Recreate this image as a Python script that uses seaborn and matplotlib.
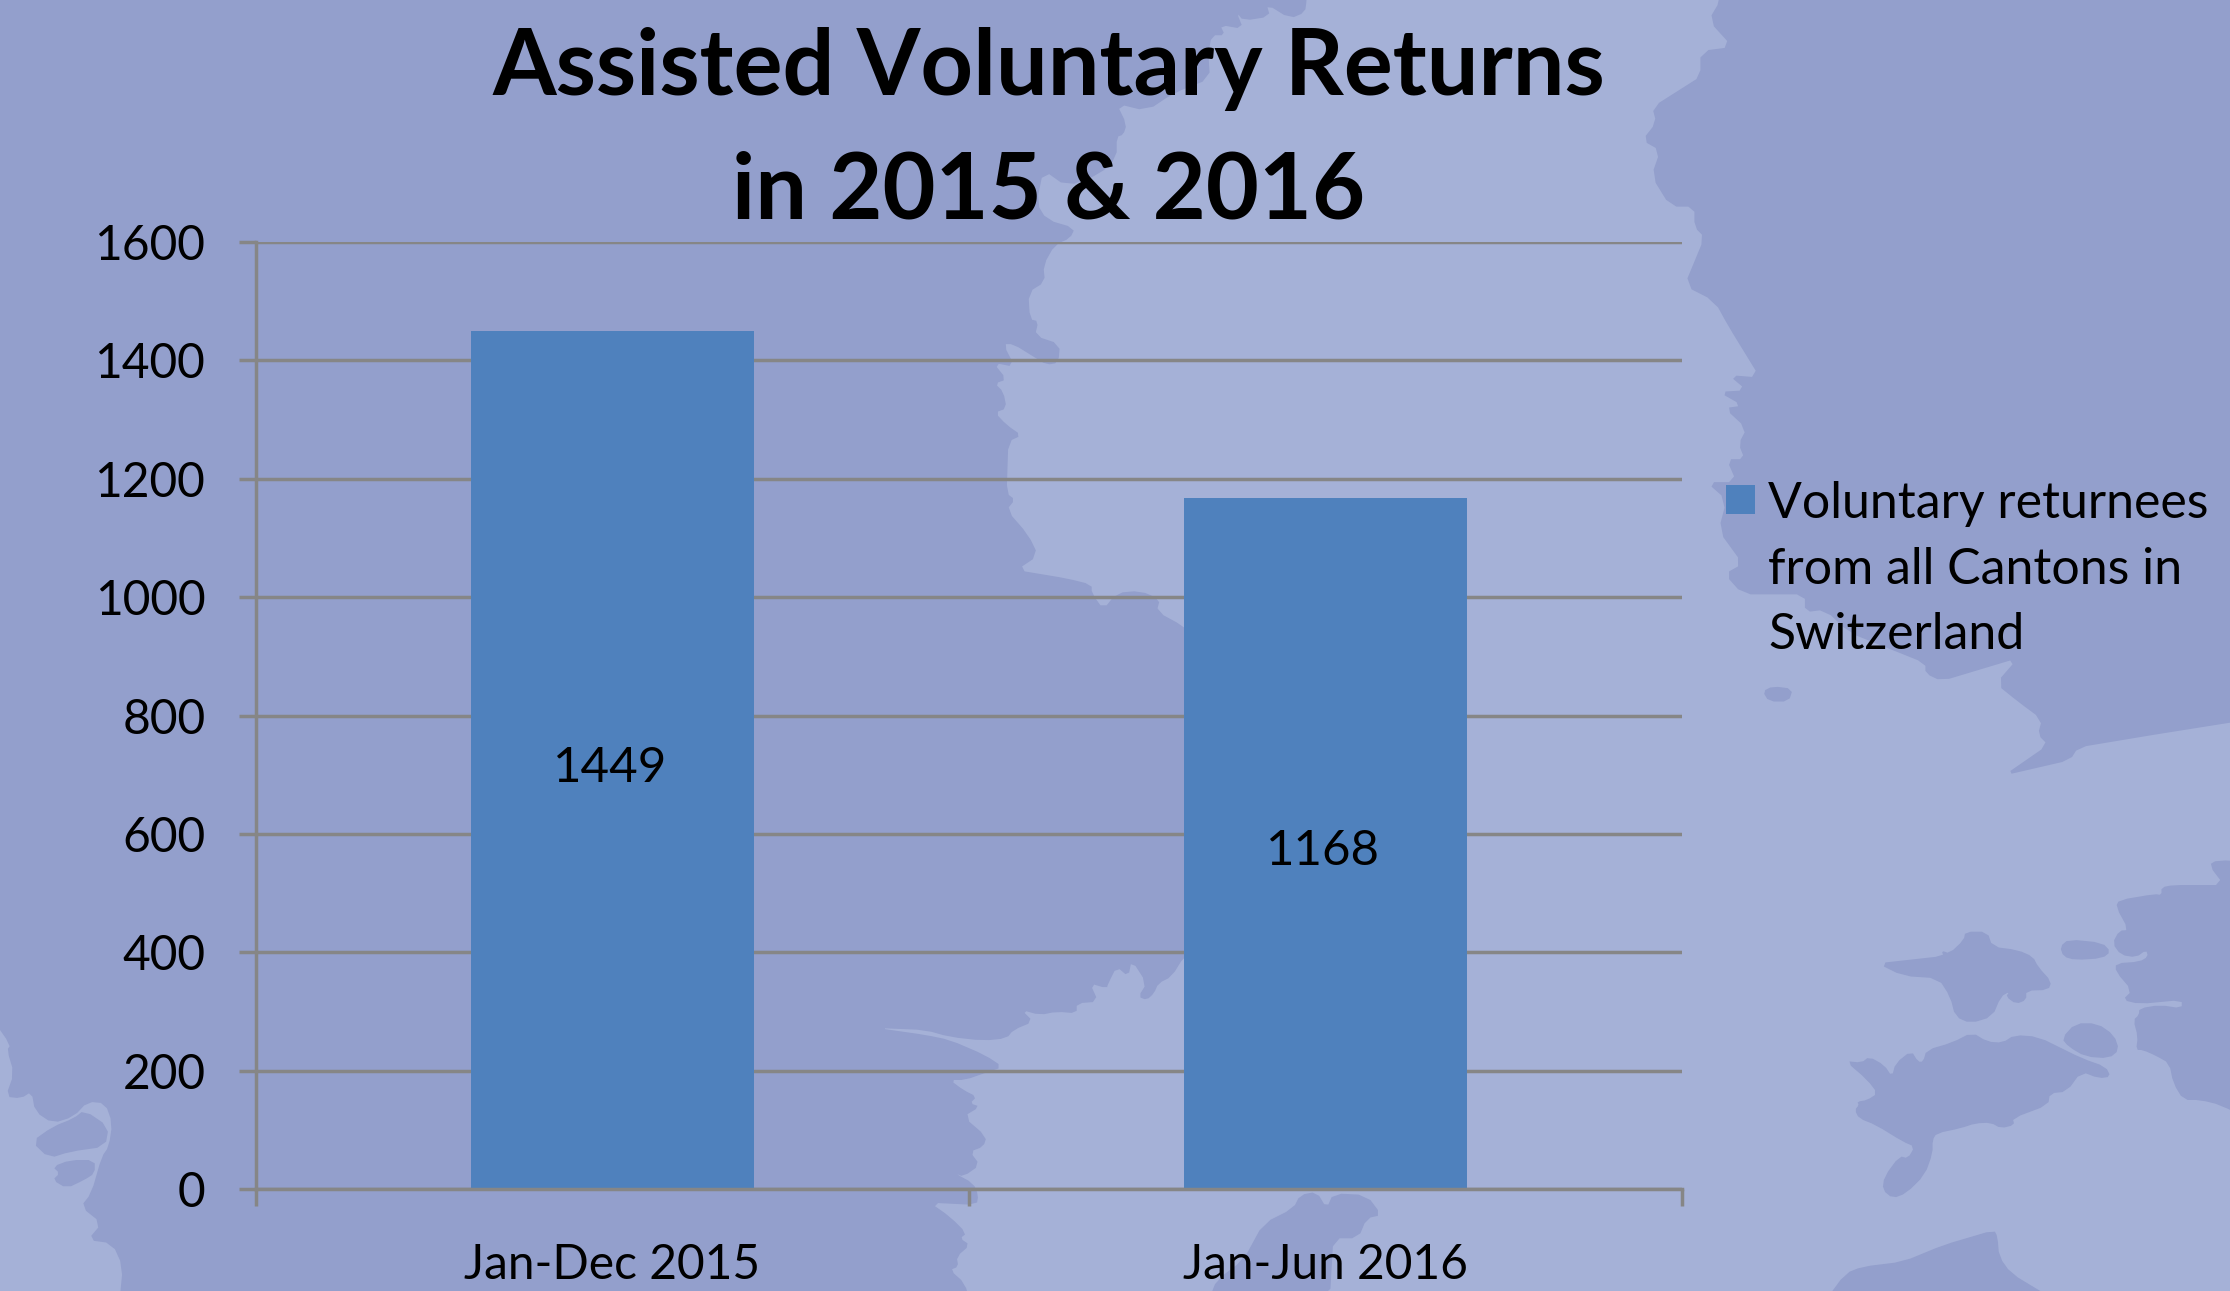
import numpy as np
import pandas as pd
import matplotlib
matplotlib.use("Agg")
import matplotlib.pyplot as plt
from matplotlib.patches import Polygon, Rectangle, Patch
from matplotlib.legend_handler import HandlerPatch
import seaborn as sns

# ---- data ----
periods = ["Jan-Dec 2015", "Jan-Jun 2016"]
returnees = [1449, 1168]
series_name = "Voluntary returnees\nfrom all Cantons in\nSwitzerland"
y_ticks = [0, 200, 400, 600, 800, 1000, 1200, 1400, 1600]
title_text = "Assisted Voluntary Returns\nin 2015 & 2016"

# ---- style ----
W, H = 2230, 1291
LIGHT, DARK = "#A5B1D7", "#939FCC"
BAR = "#4F81BD"
GRID = "#868686"
FS = 34.5
LW = 2.5

sns.set_theme(style="white")
plt.rcParams["font.family"] = ["Lato", "DejaVu Sans"]

fig = plt.figure(figsize=(W / 100, H / 100), dpi=100, facecolor=LIGHT)


def zoomed(points, x0, y0, sx, sy):
    return [(x0 + x / sx, y0 + y / sy) for x, y in points]


def chaikin(points):
    p = np.asarray(points, float)
    q = np.roll(p, -1, axis=0)
    d = np.minimum(0.25, 8 / np.maximum(np.hypot(*(q - p).T), 1e-6))[:, None]
    return np.column_stack([p + d * (q - p), q - d * (q - p)]).reshape(-1, 2)


def land(points):
    p = chaikin(points) / [W, H]
    p[:, 1] = 1 - p[:, 1]
    fig.add_artist(Polygon(p, closed=True, transform=fig.transFigure, fc=DARK, ec="none", zorder=-5))


# decorative map backdrop in pixels
Z4 = dict(x0=900, y0=0, sx=3, sy=2.412)
Z5 = dict(x0=950, y0=850, sx=3, sy=3)
Z3 = dict(x0=0, y0=950, sx=1.425, sy=3)
Z1 = dict(x0=1600, y0=0, sx=2.489, sy=1.96)
Z2 = dict(x0=1700, y0=800, sx=2.958, sy=3)

main = [(-60, -60), (1310, -60)]
main += zoomed([(1220, 0), (1215, 30), (1170, 45), (1100, 10), (1110, 40), (1030, 50), (1010, 30), (1030, 70),
                (960, 60), (975, 85), (935, 85), (925, 130), (930, 190), (820, 225), (740, 268), (650, 250),
                (680, 300), (670, 325), (650, 330), (650, 380), (600, 420), (500, 450), (430, 410), (410, 490),
                (440, 530), (525, 550), (510, 575), (465, 590), (430, 640), (435, 680), (385, 705), (390, 770),
                (415, 775), (405, 810), (480, 830), (475, 875), (440, 880), (400, 860), (340, 830), (310, 830),
                (345, 885), (280, 875), (320, 915), (285, 925), (310, 945), (320, 985), (285, 995), (320, 1025),
                (365, 1050), (325, 1065), (320, 1190), (345, 1205), (320, 1230), (385, 1290), (415, 1340),
                (350, 1375), (500, 1395), (575, 1410), (575, 1430), (610, 1470), (650, 1430), (720, 1425),
                (780, 1445), (770, 1475), (850, 1510), (870, 1530)], **Z4)
main += [(1200, 640), (1200, 945)]
main += zoomed([(702, 320), (665, 380), (625, 400), (612, 430), (590, 450), (565, 440), (590, 400), (545, 330),
                (535, 380), (500, 350), (475, 400), (470, 415), (420, 400), (445, 455), (380, 460), (380, 490),
                (320, 485), (270, 495), (215, 480), (250, 515), (190, 540), (170, 565), (100, 572)], **Z5)
main += [(950, 1037), (925, 1030), (877, 1028), (926, 1035), (950, 1040), (985, 1055), (1003, 1067), (985, 1073),
         (965, 1080), (950, 1080)]
main += zoomed([(40, 720), (80, 740), (60, 760), (90, 770), (40, 800), (110, 860), (100, 890), (60, 905), (90, 945),
                (40, 980), (15, 970), (70, 1000), (85, 1035), (80, 1065), (-60, 1058), (0, 1100), (50, 1150),
                (30, 1165), (60, 1185), (20, 1220), (25, 1250), (0, 1260), (45, 1300), (60, 1360)], **Z5)
main += zoomed([(170, 1060), (175, 950), (160, 880), (125, 870), (145, 820), (115, 770), (130, 730), (145, 620),
                (155, 590), (160, 520), (150, 460), (125, 455), (105, 500), (75, 520), (50, 485), (45, 425),
                (30, 445), (8, 440), (20, 370), (10, 300), (15, 285), (-10, 210), (-80, 210)], **Z3)
land(main)

land(zoomed([(120, 480), (155, 530), (150, 590), (100, 605), (70, 625), (45, 575), (75, 530), (105, 505)], **Z3))
land(zoomed([(75, 650), (100, 630), (135, 630), (135, 670), (120, 690), (95, 715), (75, 690), (85, 670)], **Z3))
land(zoomed([(780, 1340), (800, 1290), (880, 1230), (940, 1120), (1030, 1075), (1050, 1035), (1100, 1025),
             (1130, 1075), (1150, 1030), (1250, 1035), (1295, 1095), (1250, 1105), (1225, 1165), (1150, 1165),
             (1140, 1340)], **Z5))
land(zoomed([(300, 0), (270, 40), (330, 92), (250, 100), (250, 150), (210, 170), (130, 210), (140, 240), (105, 275),
             (150, 295), (128, 345), (175, 405), (235, 405), (235, 445), (260, 465), (210, 560), (285, 590),
             (320, 640), (398, 740), (320, 735), (365, 765), (295, 768), (355, 795), (310, 800), (365, 840),
             (345, 870), (360, 900), (315, 900), (340, 945), (265, 945), (315, 980), (295, 1040), (355, 1105),
             (310, 1125), (355, 1165), (510, 1165), (510, 1200), (560, 1195), (620, 1240), (810, 1300), (810, 1320),
             (850, 1335), (1040, 1290), (985, 1340), (1040, 1375), (1100, 1410), (1090, 1440), (1115, 1460),
             (1005, 1520), (1170, 1490), (1190, 1465), (1380, 1440), (1700, 1400), (1700, -100), (300, -100)], **Z1))
land(zoomed([(405, 1355), (430, 1345), (480, 1350), (470, 1375), (420, 1375)], **Z1))
land(zoomed([(525, 490), (720, 468), (715, 452), (738, 460), (780, 420), (785, 395), (850, 395), (865, 440), (940, 450),
             (985, 470), (1000, 500), (1040, 545), (1030, 570), (965, 572), (965, 600), (935, 612), (905, 590),
             (915, 575), (890, 590), (865, 650), (800, 670), (755, 650), (740, 590), (705, 535), (600, 528)], **Z2))
land(zoomed([(1065, 440), (1090, 418), (1190, 428), (1215, 455), (1190, 475), (1110, 480), (1075, 470)], **Z2))
land(zoomed([(430, 783), (478, 788), (500, 770), (545, 795), (568, 830), (578, 790), (625, 752), (645, 785), (660, 785),
             (670, 750), (745, 728), (805, 697), (850, 725), (895, 728), (930, 705), (1000, 710), (1130, 775),
             (1200, 800), (1215, 830), (1180, 835), (1128, 815), (1085, 875), (1035, 880), (1030, 915), (925, 955),
             (930, 975), (890, 985), (860, 968), (815, 970), (770, 985), (700, 1000), (688, 1020), (688, 1060),
             (665, 1125), (610, 1180), (570, 1195), (540, 1170), (545, 1130), (590, 1068), (615, 1075), (635, 1040),
             (600, 1025), (520, 975), (470, 955), (458, 930), (470, 915), (465, 905), (495, 900), (525, 880),
             (495, 840)], **Z2))
land(zoomed([(1070, 715), (1110, 670), (1175, 670), (1225, 705), (1240, 750), (1210, 775), (1140, 770), (1090, 740)], **Z2))
land(zoomed([(1700, 190), (1530, 180), (1505, 195), (1550, 255), (1400, 255), (1365, 262), (1365, 285), (1345, 282),
             (1240, 300), (1230, 320), (1268, 390), (1240, 392), (1220, 430), (1245, 465), (1290, 472), (1320, 450),
             (1325, 470), (1300, 485), (1230, 490), (1230, 515), (1278, 572), (1250, 600), (1300, 612), (1425, 600),
             (1425, 625), (1360, 615), (1300, 625), (1298, 645), (1282, 660), (1295, 710), (1290, 750), (1310, 750),
             (1350, 768), (1388, 790), (1400, 850), (1430, 900), (1480, 900), (1540, 915), (1700, 1000)], **Z2))
land(zoomed([(350, 1530), (430, 1420), (480, 1400), (600, 1385), (720, 1335), (870, 1290), (880, 1310), (885, 1370),
             (920, 1420), (1100, 1530)], **Z2))

# ---- chart ----
ax_left, ax_right, ax_top, ax_bottom = 256, 1682, 242, 1189
ax = fig.add_axes([ax_left / W, 1 - ax_bottom / H, (ax_right - ax_left) / W, (ax_bottom - ax_top) / H])
ax.patch.set_alpha(0)

df = pd.DataFrame({"period": periods, "returnees": returnees})
sns.barplot(data=df, x="period", y="returnees", color=BAR, saturation=1, width=0.397, linewidth=0, ax=ax, zorder=3)

ax.set_xlim(-0.5, 1.5)
ax.set_ylim(0, 1600)
ax.set_yticks(y_ticks)
ax.set_xlabel("")
ax.set_ylabel("")
ax.grid(False)
ax.yaxis.grid(True, color=GRID, lw=LW, zorder=1)
ax.set_axisbelow(True)
for name, sp in ax.spines.items():
    sp.set_visible(name in ("left", "bottom"))
    sp.set_color(GRID)
    sp.set_linewidth(LW)
    sp.set_zorder(4)
ax.tick_params(axis="y", length=12.5, width=LW, color=GRID, left=True, pad=24, labelsize=FS, labelcolor="black")
ax.tick_params(axis="x", which="major", length=0, pad=39, labelsize=FS, labelcolor="black")
ax.set_xticks([-0.5, 0.5, 1.5], minor=True)
ax.tick_params(axis="x", which="minor", length=12.5, width=LW, color=GRID, bottom=True)

for i, v in enumerate(returnees):
    ax.annotate(str(v), (i, v / 2), xytext=(-2, -5.5), textcoords="offset points",
                ha="center", va="center", fontsize=35.5, color="black", zorder=6)

fig.text(1049 / W, 1 - 27 / H, title_text, ha="center", va="top", fontsize=66, fontweight="bold",
         color="black", linespacing=1.58)


def top_square(legend, orig_handle, xdescent, ydescent, width, height, fontsize):
    return Rectangle((0, 53), 21, 21)


leg = fig.legend(handles=[Patch(facecolor=BAR, edgecolor="none", linewidth=0, label=series_name)],
                 loc="upper left", bbox_to_anchor=(1726 / W, 1 - 481 / H), bbox_transform=fig.transFigure,
                 frameon=False, fontsize=36, handlelength=0.58, handletextpad=0.26, borderpad=0, borderaxespad=0,
                 handler_map={Patch: HandlerPatch(patch_func=top_square)})
for t in leg.get_texts():
    t.set_color("black")
    t.set_linespacing(1.53)

fig.savefig("out.png", dpi=100)
